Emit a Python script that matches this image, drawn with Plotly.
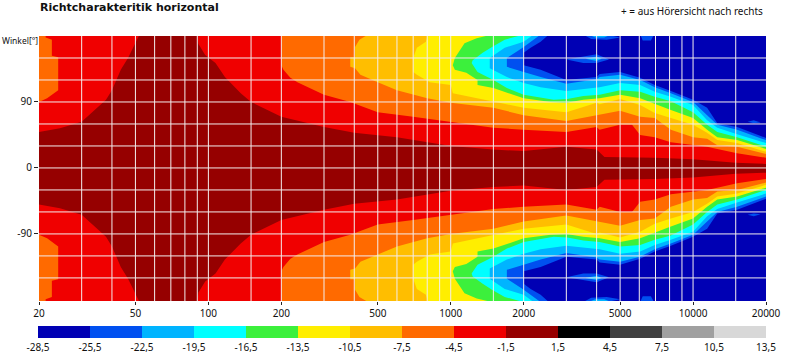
import plotly.graph_objects as go

W, H = 799, 361
TITLE = "Richtcharakteritik horizontal"
NOTE = "+ = aus Hörersicht nach rechts"
YLABEL = "Winkel[°]"

# legend bands
BAND_EDGES = [-28.5, -25.5, -22.5, -19.5, -16.5, -13.5, -10.5, -7.5, -4.5, -1.5, 1.5, 4.5, 7.5, 10.5, 13.5]
BAND_LABELS = ["-28,5", "-25,5", "-22,5", "-19,5", "-16,5", "-13,5", "-10,5", "-7,5", "-4,5", "-1,5", "1,5", "4,5", "7,5", "10,5", "13,5"]
BAND_MIDS = [-27, -24, -21, -18, -15, -12, -9, -6, -3, 0, 3, 6, 9, 12]
BAND_COLORS = ["#0000b4", "#0050f0", "#00b4ff", "#00ffff", "#3cf03c", "#ffee00", "#ffbe00", "#ff6a00",
               "#f00000", "#960000", "#000000", "#404040", "#a0a0a0", "#d8d8d8"]

# axes
X_TICKS = [20, 50, 100, 200, 500, 1000, 2000, 5000, 10000, 20000]
Y_TICKS = [90, 0, -90]
X_GRID = [30, 40, 50, 60, 70, 80, 90, 100, 150, 200, 300, 400, 500, 600, 700, 800, 900, 1000, 1500, 2000,
          3000, 4000, 5000, 6000, 7000, 8000, 9000, 10000, 15000]
Y_GRID = [150, 120, 90, 60, 30, 0, -30, -60, -90, -120, -150]

# digitised level contours, upper half: frequency (Hz) and angle (deg) below which/above which the level is passed
TAIL_HZ = [5000, 6050, 6950, 8100, 10000, 11430, 12590, 15200, 20000]

R1L_HZ = [20, 24.4, 30, 33, 37.8, 40, 43.5, 46.6, 50, 52]
R1L_DEG = [49, 54, 63, 75, 93, 106, 134, 150, 170, 182]
R1R_HZ = [90, 91, 97, 107, 117, 136, 150, 200, 300, 400, 600, 1000, 1500, 2000, 3000, 4000, 4310, 5000, 7000, 10000, 15000, 20000]
R1R_DEG = [182, 169, 154, 143, 124, 102, 90, 70, 56, 48, 42, 30, 25, 23, 29, 25, 15, 15, 14, 12, 7, 5.5]

R2L_HZ = [20, 21.6, 24, 24, 22.6, 22.6, 21.3, 21.3]
R2L_DEG = [90, 95, 106, 151, 153, 175, 178, 182]
R2R_HZ = [200, 200, 204, 218, 233, 300, 385, 500, 700, 1000, 1500, 2000, 3000, 4000, 4115, 5000, 5600, 6050, 6950, 8100, 10000, 11430, 12590, 15200, 20000]
R2R_DEG = [182, 140, 134, 123, 117, 100, 90, 76, 70, 63, 55, 52, 49, 56, 52, 59, 59, 45, 42, 35, 31, 29, 26, 20, 14]

R3_HZ = [456, 420, 403, 403, 385, 385, 403, 424, 500, 600, 800, 1000, 1500, 2000, 3000, 4000, 4115] + TAIL_HZ
R3_DEG = [182, 175, 165, 151, 151, 138, 136, 127, 117, 106, 95, 89, 82, 72, 64, 72, 72, 78, 70, 68, 52, 42, 40, 31, 29, 19]

R4_HZ = [805, 790, 725, 700, 700, 725, 820, 1000, 1020, 1500, 2000, 3000, 4000, 4115] + TAIL_HZ
R4_DEG = [182, 172, 164, 150, 131, 127, 117, 113, 102, 90, 82, 76, 89, 87, 94, 86, 75, 68, 59, 48, 38, 34, 22]

R5_HZ = [1480, 1280, 1140, 1090, 1040, 1020, 1040, 1160, 1290, 1290, 1500, 2000, 2585, 3000, 3525, 4115] + TAIL_HZ
R5_DEG = [182, 177, 170, 161, 150, 140, 134, 130, 120, 113, 109, 95, 90, 89, 93, 95, 100, 95, 87, 79, 68, 52, 42, 38, 26]

R6_HZ = [2000, 1670, 1480, 1355, 1232, 1220, 1290, 1500, 1705, 2000, 2660, 3030, 3525, 4115] + TAIL_HZ
R6_DEG = [182, 175, 165, 157, 147, 143, 131, 120, 109, 100, 93, 94, 98, 100, 106, 104, 97, 91, 76, 59, 49, 42, 29]

R7_HZ = [2200, 2000, 1670, 1449, 1449, 1705, 2000, 2350, 3000, 4000, 4115] + TAIL_HZ
R7_DEG = [182, 172, 164, 150, 136, 124, 116, 110, 105, 109, 110, 116, 113, 104, 97, 86, 65, 55, 46, 34]

R8_HZ = [2350, 1980, 1705, 1705, 2000, 2350, 3000, 4000, 4115] + TAIL_HZ
R8_DEG = [182, 164, 150, 138, 131, 124, 115, 121, 124, 127, 120, 110, 102, 90, 72, 59, 52, 38]

R9_HZ = [2540, 2350, 2137, 2000, 2000, 2350, 3000, 4000, 4115] + TAIL_HZ
R9_DEG = [182, 172, 164, 157, 140, 134, 120, 124, 128, 131, 123, 113, 105, 93, 82, 61, 56, 41]

TOP_ANGLE = 182
LOWER_SHIFT = 1.0

# painted from the outermost level inward: (band index, hz, deg, closes at the top edge)
REGIONS = [
    (8, R1L_HZ, R1L_DEG, True), (8, R1R_HZ, R1R_DEG, True),
    (7, R2L_HZ, R2L_DEG, True), (7, R2R_HZ, R2R_DEG, True),
    (6, R3_HZ, R3_DEG, True),
    (5, R4_HZ, R4_DEG, True),
    (4, R5_HZ, R5_DEG, True),
    (3, R6_HZ, R6_DEG, True),
    (2, R7_HZ, R7_DEG, True),
    (1, R8_HZ, R8_DEG, True),
    (0, R9_HZ, R9_DEG, True),
    (1, [3520, 3800, 4400, 5000, 4400], [182, 176, 175, 178, 182], False),
    (2, [3700, 3950, 4300, 4600], [182, 178, 178, 182], False),
    (1, [6050, 6200, 6700, 6900], [182, 174, 174, 182], False),
    (1, [3000, 3525, 4000, 4500, 4000, 3525], [148, 152, 155, 148, 143, 143], False),
    (2, [3600, 4000, 4200, 4000], [149, 152, 149, 146], False),
    (1, [16800, 17800, 19000, 17800], [63, 65, 62, 61], False),
]

fig = go.Figure()

for band, hz, deg, closed in REGIONS:
    xs = list(hz) + ([hz[-1], hz[0]] if closed else [])
    ys = list(deg) + ([TOP_ANGLE, TOP_ANGLE] if closed else [])
    for yy in (ys, [-(v + LOWER_SHIFT) for v in ys]):
        fig.add_trace(go.Scatter(x=xs, y=yy, mode="lines", fill="toself", fillcolor=BAND_COLORS[band],
                                 line=dict(width=0, color=BAND_COLORS[band]), hoverinfo="skip", showlegend=False))

grid_x, grid_y = [], []
for f in X_GRID:
    grid_x += [f, f, None]
    grid_y += [-182, 180, None]
for a in Y_GRID:
    grid_x += [20, 20000, None]
    grid_y += [a, a, None]
fig.add_trace(go.Scatter(x=grid_x, y=grid_y, mode="lines", line=dict(color="#f4eeee", width=1),
                         hoverinfo="skip", showlegend=False))

scale = []
n = len(BAND_COLORS)
for i, c in enumerate(BAND_COLORS):
    scale += [[i / n, c], [(i + 1) / n, c]]
fig.add_trace(go.Heatmap(x=BAND_EDGES, z=[BAND_MIDS], xaxis="x2", yaxis="y2", zmin=BAND_EDGES[0], zmax=BAND_EDGES[-1],
                         colorscale=scale, showscale=False, hoverinfo="skip"))

FONT = "Noto Sans"
fig.update_layout(
    width=W, height=H, autosize=False, margin=dict(l=0, r=0, t=0, b=0),
    paper_bgcolor="white", plot_bgcolor=BAND_COLORS[9], showlegend=False,
    font=dict(family=FONT, size=10, color="#111111"),
    xaxis=dict(type="log", range=[1.30103, 4.30103], domain=[39 / W, 766 / W], anchor="y", automargin=False,
               showgrid=False, zeroline=False, showline=False, tickmode="array",
               tickvals=X_TICKS, ticktext=[str(v) for v in X_TICKS], ticks="outside", ticklen=3, tickcolor="#222222"),
    yaxis=dict(range=[-181.5, 180], domain=[1 - 301 / H, 1 - 36 / H], anchor="x", automargin=False,
               showgrid=False, zeroline=False, showline=False, tickmode="array",
               tickvals=Y_TICKS, ticktext=[str(v) for v in Y_TICKS], ticks="outside", ticklen=4, tickcolor="#222222"),
    xaxis2=dict(range=[BAND_EDGES[0], BAND_EDGES[-1]], domain=[38 / W, 766 / W], anchor="y2", showgrid=False,
                automargin=False, zeroline=False, showline=False, tickmode="array", tickvals=BAND_EDGES,
                ticktext=BAND_LABELS, ticks="", tickangle=0, ticklabelstandoff=2),
    yaxis2=dict(domain=[1 - 338 / H, 1 - 326 / H], anchor="x2", showgrid=False, zeroline=False, showline=False,
                automargin=False, showticklabels=False, ticks=""),
    annotations=[
        dict(text=TITLE, xref="paper", yref="paper", x=38 / W, y=1 - 7 / H, xanchor="left", yanchor="middle",
             showarrow=False, font=dict(family="DejaVu Sans", size=11, color="#111111", weight="bold")),
        dict(text=NOTE, xref="paper", yref="paper", x=765 / W, y=1 - 11 / H, xanchor="right", yanchor="middle",
             showarrow=False, font=dict(family=FONT, size=10, color="#111111")),
        dict(text=YLABEL, xref="paper", yref="paper", x=0, y=1 - 40 / H, xanchor="left", yanchor="middle",
             showarrow=False, font=dict(family=FONT, size=8.5, color="#111111")),
    ],
)

fig.write_html("out.html", config={"displayModeBar": False}, post_script="document.body.style.margin='0';")
